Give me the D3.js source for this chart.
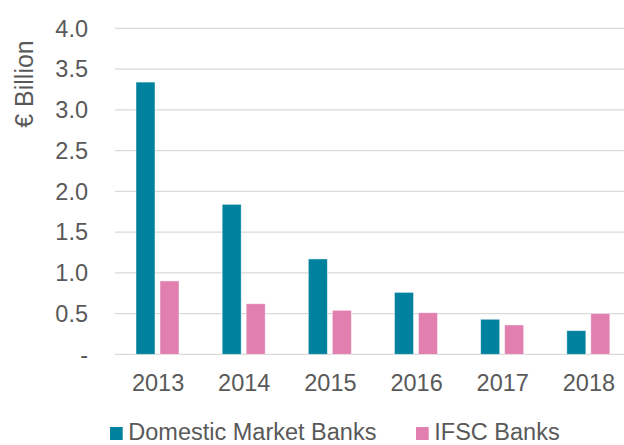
<!DOCTYPE html>
<html>
<head>
<meta charset="utf-8">
<script src="https://cdnjs.cloudflare.com/ajax/libs/d3/7.8.5/d3.min.js"></script>
<style>
  html, body { margin: 0; padding: 0; background: #fff; }
  svg { display: block; font-family: "Liberation Sans", Arial, sans-serif; }
</style>
</head>
<body>
<svg id="chart" width="624" height="445"></svg>
<script>
const years = ["2013", "2014", "2015", "2016", "2017", "2018"];
const seriesNames = ["Domestic Market Banks", "IFSC Banks"];
const domesticValues = [3.34, 1.84, 1.17, 0.76, 0.43, 0.29];
const ifscValues = [0.90, 0.62, 0.54, 0.51, 0.36, 0.50];
const yTicks = [0, 0.5, 1.0, 1.5, 2.0, 2.5, 3.0, 3.5, 4.0];
const yTickLabels = ["-", "0.5", "1.0", "1.5", "2.0", "2.5", "3.0", "3.5", "4.0"];
const colors = ["#00829F", "#E17FAE"];
const yTitle = "€ Billion";

const svg = d3.select("#chart");
const textColor = "#595959";
const fontSize = 23.5;

const x = d3.scaleBand().domain(years).range([115, 632]).paddingInner(0).paddingOuter(0);
const xInner = d3.scaleBand().domain(seriesNames).range([21, 64]).paddingInner(0.208).paddingOuter(0);
const y = d3.scaleLinear().domain([0, 4]).range([354.3, 28.3]);

// gridlines
svg.append("g").selectAll("line").data(yTicks).join("line")
  .attr("x1", 115).attr("x2", 632)
  .attr("y1", d => y(d)).attr("y2", d => y(d))
  .attr("stroke", "#D9D9D9").attr("stroke-width", 1.3);

// y tick labels
svg.append("g").selectAll("text").data(yTicks).join("text")
  .attr("x", 88).attr("y", d => y(d))
  .attr("dy", "0.35em")
  .attr("text-anchor", "end")
  .attr("fill", textColor)
  .attr("font-size", fontSize)
  .text((d, i) => yTickLabels[i]);

// y title
svg.append("text")
  .attr("transform", "translate(33,84) rotate(-90)")
  .attr("text-anchor", "middle")
  .attr("fill", textColor)
  .attr("font-size", 25)
  .text(yTitle);

// bars
const data = years.map((yr, i) => ({ year: yr, values: [domesticValues[i], ifscValues[i]] }));
const groups = svg.append("g").selectAll("g").data(data).join("g")
  .attr("transform", d => `translate(${x(d.year)},0)`);
groups.selectAll("rect")
  .data(d => d.values.map((v, j) => ({ name: seriesNames[j], value: v, j })))
  .join("rect")
  .attr("x", d => xInner(d.name))
  .attr("width", xInner.bandwidth())
  .attr("y", d => y(d.value))
  .attr("height", d => y(0) - y(d.value))
  .attr("fill", d => colors[d.j])
  .attr("stroke", "#ffffff")
  .attr("stroke-opacity", 0.6)
  .attr("stroke-width", 0.75);

// x labels
svg.append("g").selectAll("text").data(years).join("text")
  .attr("x", d => x(d) + x.bandwidth() / 2)
  .attr("y", 390.5)
  .attr("text-anchor", "middle")
  .attr("fill", textColor)
  .attr("font-size", fontSize)
  .text(d => d);

// legend
const legendPos = [110, 416];
const legend = svg.append("g").selectAll("g").data(seriesNames).join("g")
  .attr("transform", (d, i) => `translate(${legendPos[i]},0)`);
legend.append("rect")
  .attr("x", 0).attr("y", 427).attr("width", 12.7).attr("height", 13)
  .attr("fill", (d, i) => colors[i]);
legend.append("text")
  .attr("x", 18.3).attr("y", 440)
  .attr("fill", textColor)
  .attr("font-size", fontSize)
  .text(d => d);
</script>
</body>
</html>
